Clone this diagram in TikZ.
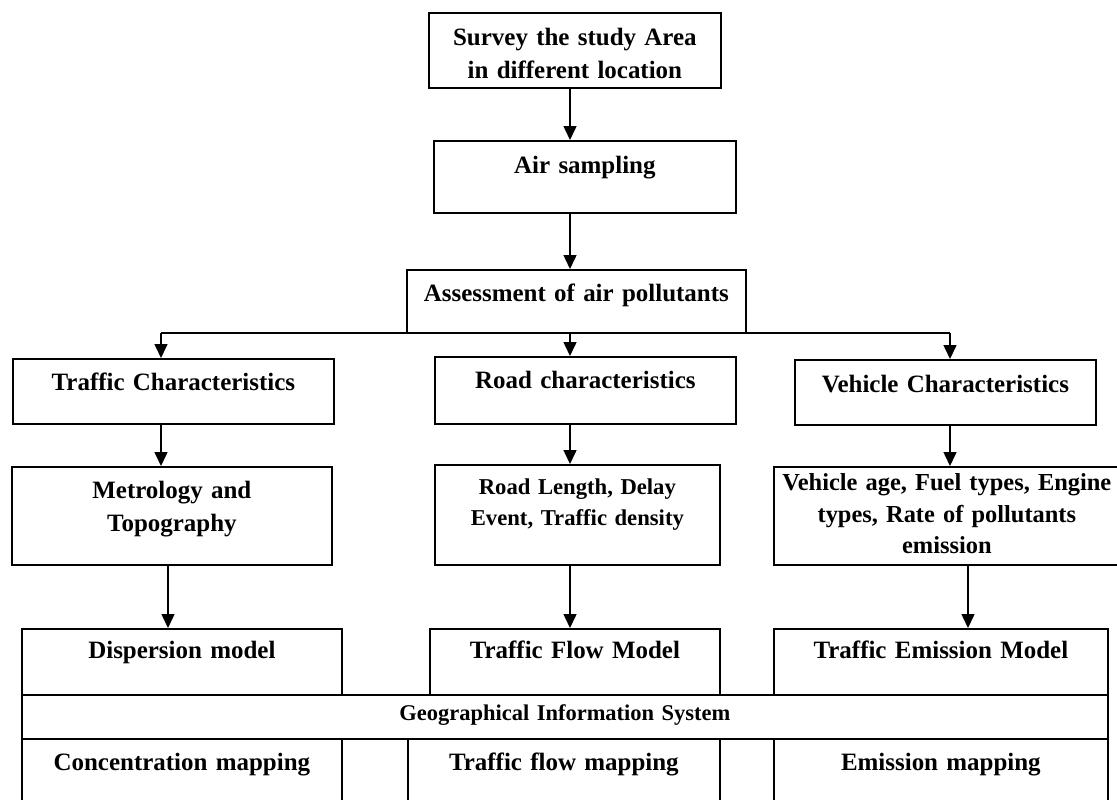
\documentclass[tikz,border=0pt]{standalone}
\usepackage{fontspec}
\setmainfont{Liberation Serif}
\usetikzlibrary{arrows.meta}

\tikzset{
  flowbox/.style={draw, line width=0.35mm, anchor=north west, inner sep=0pt,
    align=center, font=\fontsize{14.2pt}{18.8pt}\selectfont\bfseries},
  flowarrow/.style={line width=0.3mm, -{Triangle[length=2.8mm,width=2.6mm]}},
}

\begin{document}
\begin{tikzpicture}[x=0.2mm, y=-0.2mm]
  \useasboundingbox (0,0) rectangle (1117,799);
  \clip (0,0) rectangle (1117,799);

  % Column points of the arrows
  \coordinate (a1) at (161,333);
  \coordinate (a2) at (570,333);
  \coordinate (a3) at (950,333);
  \coordinate (b1) at (168,600);
  \coordinate (b3) at (968,600);

  % Drawing the survey, sampling and assessment boxes
  \node [flowbox, text width=58.4mm, text height=6.6mm, text depth=8.4mm] (survey) at (428,12) {Survey the study Area\\in different location};%
  \node [flowbox, text width=60.4mm, text height=6.6mm, text depth=7.8mm] (air) at (433,140) {Air sampling};%
  \node [flowbox, text width=67.8mm, text height=6.4mm, text depth=6.2mm] (assess) at (406,269) {Assessment of air pollutants};%

  % Drawing the characteristics boxes
  \node [flowbox, text width=64.2mm, text height=6.4mm, text depth=6.6mm] (tc) at (12,358) {Traffic Characteristics};%
  \node [flowbox, text width=60.2mm, text height=6.4mm, text depth=7.0mm] (rc) at (434,356) {Road characteristics};%
  \node [flowbox, text width=60.2mm, text height=6.6mm, text depth=6.4mm] (vc) at (794,359) {Vehicle Characteristics};%

  % Drawing the detail boxes
  \node [flowbox, text width=64.0mm, text height=6.4mm, text depth=13.2mm] (met) at (11,466) {Metrology and\\Topography};%
  \node [flowbox, text width=57.0mm, text height=6.0mm, text depth=14.0mm,
    font=\fontsize{12.9pt}{17.6pt}\selectfont\bfseries] (rl) at (434,464) {Road Length, Delay\\Event, Traffic density};%
  \node [flowbox, text width=69.2mm, text height=4.8mm, text depth=14.8mm,
    font=\fontsize{13.9pt}{17.9pt}\selectfont\bfseries] (vd) at (773,466) {Vehicle age, Fuel types, Engine\\types, Rate of pollutants\\emission};%

  % Drawing the model boxes
  \node [flowbox, text width=64.0mm, text height=6.0mm, text depth=7.2mm] (disp) at (21,628) {Dispersion model};%
  \node [flowbox, text width=58.0mm, text height=6.0mm, text depth=7.2mm] (flow) at (429,628) {Traffic Flow Model};%
  \node [flowbox, text width=66.8mm, text height=6.0mm, text depth=7.2mm] (emis) at (773,628) {Traffic Emission Model};%

  % Drawing the GIS band and the mapping boxes
  \node [flowbox, text width=217.2mm, text height=5.2mm, text depth=3.6mm,
    font=\fontsize{12.8pt}{16pt}\selectfont\bfseries] (gis) at (21,694) {Geographical Information System};%
  \node [flowbox, text width=64.0mm, text height=6.4mm, text depth=14.0mm] (cmap) at (21,738) {Concentration mapping};%
  \node [flowbox, text width=62.4mm, text height=6.4mm, text depth=14.0mm] (fmap) at (407,738) {Traffic flow mapping};%
  \node [flowbox, text width=66.8mm, text height=6.4mm, text depth=14.0mm] (emap) at (773,738) {Emission mapping};%

  % Drawing arrows down the middle
  \draw [flowarrow] (survey.south -| a2) -- (air.north -| a2);%
  \draw [flowarrow] (air.south -| a2) -- (assess.north -| a2);%

  % Drawing the branch line and its arrows
  \draw [line width=0.3mm] (a1) -- (a3);%
  \draw [flowarrow] (a1) -- (tc.north -| a1);%
  \draw [flowarrow] (a2) -- (rc.north -| a2);%
  \draw [flowarrow] (a3) -- (vc.north -| a3);%

  % Drawing arrows in the three columns
  \draw [flowarrow] (tc.south -| a1) -- (met.north -| a1);%
  \draw [flowarrow] (rc.south -| a2) -- (rl.north -| a2);%
  \draw [flowarrow] (vc.south -| a3) -- (vd.north -| a3);%
  \draw [flowarrow] (met.south -| b1) -- (disp.north -| b1);%
  \draw [flowarrow] (rl.south -| a2) -- (flow.north -| a2);%
  \draw [flowarrow] (vd.south -| b3) -- (emis.north -| b3);%
\end{tikzpicture}
\end{document}
